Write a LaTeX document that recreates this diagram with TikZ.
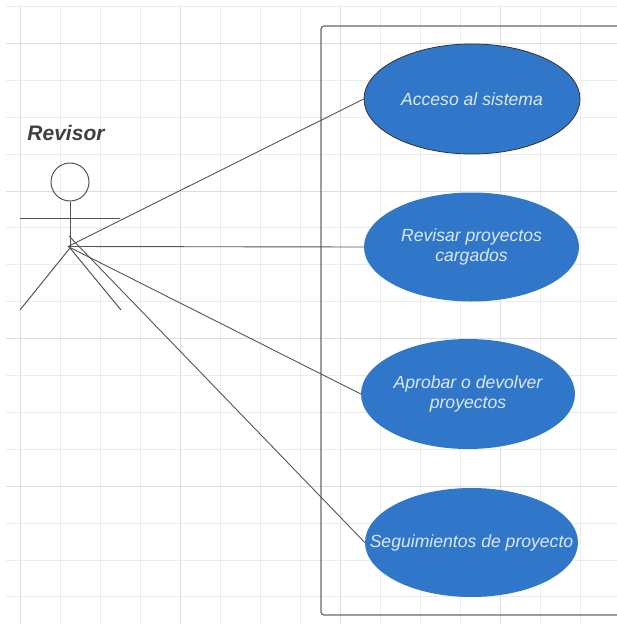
\documentclass[tikz,border=0pt]{standalone}
\usepackage{fontspec}
\setmainfont{Liberation Sans}
\usetikzlibrary{shapes.geometric}
\definecolor{ucfill}{RGB}{48,119,201}
\definecolor{uctext}{RGB}{222,232,247}
\definecolor{gridminor}{RGB}{236,236,236}
\definecolor{gridmajor}{RGB}{222,222,222}
\definecolor{linegray}{RGB}{85,85,85}
\definecolor{boundgray}{RGB}{105,105,105}
\begin{document}
\begin{tikzpicture}[x=1pt,y=-1pt,
  usecase/.style={ellipse, fill=ucfill, inner sep=0pt, text=uctext,
    font=\fontsize{17.6}{20}\selectfont\itshape, align=center},
  conn/.style={draw=linegray, line width=0.9pt},
  actorline/.style={draw=linegray, line width=1pt},
  gridline/.style={draw=gridminor, line width=1pt},
  gridmaj/.style={draw=gridmajor, line width=1pt}]
\useasboundingbox (0,0) rectangle (617,624);
\fill[white] (0,0) rectangle (617,624);
\begin{scope}
\clip (0,0) rectangle (617,624);
% grid
\foreach \i in {0,...,15} {
  \pgfmathtruncatemacro{\m}{mod(\i,4)}
  \ifnum\m=0
    \draw[gridmaj] ({20+40*\i},6) -- ({20+40*\i},624);
  \else
    \draw[gridline] ({20+40*\i},6) -- ({20+40*\i},624);
  \fi
}
\foreach \k in {0,...,16} {
  \pgfmathtruncatemacro{\m}{mod(\k,4)}
  \ifnum\m=1
    \draw[gridmaj] (6,{6.5+36.9*\k}) -- (617,{6.5+36.9*\k});
  \else
    \draw[gridline] (6,{6.5+36.9*\k}) -- (617,{6.5+36.9*\k});
  \fi
}
% system boundary
\draw[draw=boundgray, line width=1.2pt, rounded corners=3pt] (321,26) rectangle (650,615);
\end{scope}

% actor
\node[draw=linegray, line width=1pt, circle, minimum size=38pt, inner sep=0pt] (head) at (70,182) {};
\coordinate (hip) at (70,248);
\coordinate (armL) at (20,218);
\coordinate (armR) at (120,218);
\coordinate (footL) at (20,310);
\coordinate (footR) at (121,310);
\draw[actorline] (head.south) -- (hip);
\draw[actorline] (armL) -- (armR);
\draw[actorline] (footL) -- (hip) -- (footR);
\node[text=black!75, font=\fontsize{21}{24}\selectfont\bfseries\itshape] (actorname) at (66,133) {Revisor};

% use cases
\node[usecase, draw=black!80, line width=0.8pt, minimum width=216pt, minimum height=110pt] (uc1) at (472,99) {\makebox[120pt][c]{Acceso al sistema}};
\node[usecase, minimum width=215pt, minimum height=109pt] (uc2) at (471.5,247) {\makebox[120pt][c]{Revisar proyectos}\\cargados};
\node[usecase, minimum width=214pt, minimum height=110pt] (uc3) at (468,394) {\makebox[120pt][c]{Aprobar o devolver}\\proyectos};
\node[usecase, minimum width=213pt, minimum height=109pt] (uc4) at (471.5,542.5) {\makebox[120pt][c]{Seguimientos de proyecto}};

% connectors
\coordinate (src) at (68,246.5);
\coordinate (src2) at (69,236);
\draw[conn] (src) -- (uc1.west);
\draw[conn] (src) -- (uc2.west);
\draw[conn] (src) -- (uc3.west);
\draw[conn] (src2) -- (uc4.west);
\end{tikzpicture}
\end{document}
